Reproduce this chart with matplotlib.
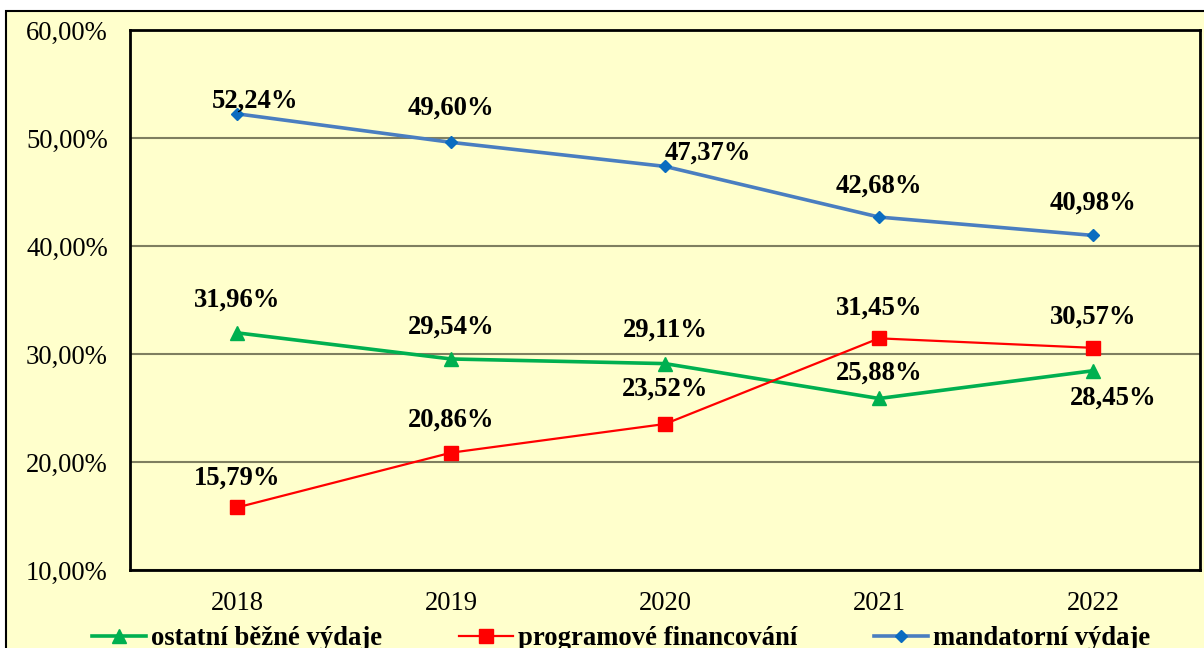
import matplotlib.pyplot as plt
from matplotlib.patches import Rectangle

years = ['2018', '2019', '2020', '2021', '2022']
ostatni = [31.96, 29.54, 29.11, 25.88, 28.45]
programove = [15.79, 20.86, 23.52, 31.45, 30.57]
mandatorni = [52.24, 49.60, 47.37, 42.68, 40.98]
y_ticks = [10, 20, 30, 40, 50, 60]

# label offsets in pixels (dx, dy up)
off_ost = [(0, 33), (0, 32), (0, 33), (0, 25), (20, -27)]
off_prog = [(0, 29), (0, 33), (0, 35), (0, 30), (0, 31)]
off_mand = [(18, 13), (0, 34), (43, 13), (0, 31), (0, 32)]

plt.rcParams['font.family'] = ['Liberation Serif', 'DejaVu Serif']
bg = '#FFFFCC'
px = 72 / 100
fs = 19.2

fig = plt.figure(figsize=(12.04, 6.48), dpi=100, facecolor='white')
fig.patches.append(Rectangle((6 / 1204, -0.2), 1.2, 1.2 - 11 / 648,
                             transform=fig.transFigure, facecolor=bg,
                             edgecolor='black', linewidth=1.5, zorder=-5))
ax = fig.add_axes([130 / 1204, 1 - 570 / 648, 1070 / 1204, 540 / 648])
ax.set_facecolor(bg)

x = list(range(len(years)))
l1, = ax.plot(x, ostatni, color='#00B050', lw=2.6, marker='^', ms=9.5,
              label='ostatní běžné výdaje', zorder=3)
l2, = ax.plot(x, programove, color='#FF0000', lw=1.6, marker='s', ms=9.5,
              label='programové financování', zorder=3)
l3, = ax.plot(x, mandatorni, color='#4A7EC0', lw=2.6, marker='D', ms=6.5,
              mfc='#0A6CC0', mec='#0A6CC0', label='mandatorní výdaje', zorder=3)

for vals, offs in ((ostatni, off_ost), (programove, off_prog), (mandatorni, off_mand)):
    for i, v in enumerate(vals):
        ax.annotate(f'{v:.2f}%'.replace('.', ','), (i, v),
                    xytext=(offs[i][0] * px, offs[i][1] * px),
                    textcoords='offset points', ha='center', va='center',
                    fontsize=fs, fontweight='bold', zorder=4)

ax.set_xlim(-0.5, 4.5)
ax.set_ylim(10, 60)
ax.set_yticks(y_ticks)
ax.set_yticklabels([f'{t},00%' for t in y_ticks])
ax.set_xticks(x)
ax.set_xticklabels(years)
ax.tick_params(length=0, labelsize=fs)
ax.tick_params(axis='y', pad=16)
ax.tick_params(axis='x', pad=15)
ax.grid(axis='y', color='#7F7F60', lw=1.5)
ax.set_axisbelow(True)
for s in ax.spines.values():
    s.set_linewidth(2)
    s.set_color('black')

fig.legend(handles=[l1, l2, l3], loc='center', bbox_to_anchor=(0.516, 0.014),
           ncol=3, frameon=False, prop={'weight': 'bold', 'size': fs},
           columnspacing=2.9, handlelength=2.0, handletextpad=0.19)

fig.savefig('out.png', dpi=100, facecolor='white')
